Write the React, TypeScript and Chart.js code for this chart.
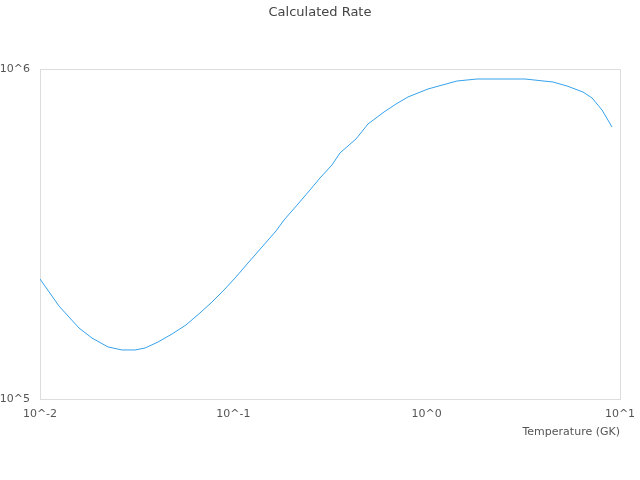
import React, { useEffect, useRef } from 'react';
import Chart from 'chart.js/auto';

// temperatures (GK) and rates
const temperature = [
  0.01, 0.01254, 0.01591, 0.01858, 0.02247, 0.02655, 0.031, 0.03492, 0.04076, 0.04818,
  0.0569, 0.06723, 0.07756, 0.08946, 0.1032, 0.1191, 0.1407, 0.1662, 0.1829, 0.216,
  0.2492, 0.2807, 0.3237, 0.3562, 0.431, 0.4972, 0.6015, 0.6941, 0.8006, 1.016,
  1.435, 1.821, 3.226, 4.502, 5.319, 6.436, 7.165, 8.072, 9.092,
];
const rate = [
  231000, 191300, 164100, 153000, 143800, 140800, 140800, 142700, 148800, 157400,
  167600, 182300, 196700, 213900, 234300, 258300, 288800, 322900, 348600, 389900,
  429900, 467400, 511900, 556700, 613700, 681300, 740800, 783200, 822700, 869800,
  919600, 932600, 932600, 913200, 888100, 851600, 817100, 751200, 667200,
];
const xTicks = [0.01, 0.1, 1, 10];
const yTicks = [1e5, 1e6];

const powLabel = (v: number) => '10^' + Math.round(Math.log10(v));

// light box round the plot area
const frame = {
  id: 'frame',
  beforeDatasetsDraw(chart: Chart) {
    const { ctx, chartArea: a } = chart;
    ctx.save();
    ctx.strokeStyle = '#dddddd';
    ctx.lineWidth = 1;
    ctx.strokeRect(a.left + 0.5, a.top + 0.5, a.right - a.left, a.bottom - a.top);
    ctx.restore();
  },
};

const RateChart: React.FC = () => {
  const canvasRef = useRef<HTMLCanvasElement>(null);

  useEffect(() => {
    if (!canvasRef.current) return;
    Chart.defaults.font.family = 'DejaVu Sans';
    Chart.defaults.color = '#555';
    const chart = new Chart(canvasRef.current, {
      type: 'line',
      data: {
        datasets: [
          {
            label: 'Rate',
            data: temperature.map((t, i) => ({ x: t, y: rate[i] })),
            borderColor: '#36A2EB',
            borderWidth: 1,
            pointRadius: 0,
            tension: 0,
            fill: false,
          },
        ],
      },
      plugins: [frame],
      options: {
        animation: false,
        responsive: false,
        layout: { padding: { left: 0, right: 0, top: 0, bottom: 37.4 } },
        plugins: {
          legend: { display: false },
          tooltip: { enabled: false },
          title: {
            display: true,
            text: 'Calculated Rate',
            font: { size: 13, weight: 'normal' },
            color: '#444',
            padding: { top: 5, bottom: 48.4 },
          },
        },
        scales: {
          x: {
            type: 'logarithmic',
            min: 0.01,
            max: 10,
            grid: { display: false, drawTicks: false },
            border: { display: false },
            afterBuildTicks: (scale: any) => {
              scale.ticks = xTicks.map((v) => ({ value: v }));
            },
            afterFit: (scale: any) => {
              scale.height = 43.6;
              scale.paddingRight = 20;
            },
            ticks: {
              font: { size: 11 },
              padding: 9,
              maxRotation: 0,
              autoSkip: false,
              callback: (v: any) => powLabel(Number(v)),
            },
            title: {
              display: true,
              text: 'Temperature (GK)',
              align: 'end',
              font: { size: 11 },
              padding: { top: 4, bottom: 4 },
            },
          },
          y: {
            type: 'logarithmic',
            min: 1e5,
            max: 1e6,
            grid: { display: false, drawTicks: false },
            border: { display: false },
            afterBuildTicks: (scale: any) => {
              scale.ticks = yTicks.map((v) => ({ value: v }));
            },
            afterFit: (scale: any) => {
              scale.width = 40;
            },
            ticks: {
              font: { size: 11 },
              padding: 10,
              autoSkip: false,
              callback: (v: any) => powLabel(Number(v)),
            },
          },
        },
      },
    });
    return () => chart.destroy();
  }, []);

  return <canvas ref={canvasRef} width={640} height={480} />;
};

export default function App() {
  return (
    <div style={{ position: 'fixed', left: 0, top: 0, width: 640, height: 480, background: '#fff' }}>
      <RateChart />
    </div>
  );
}
